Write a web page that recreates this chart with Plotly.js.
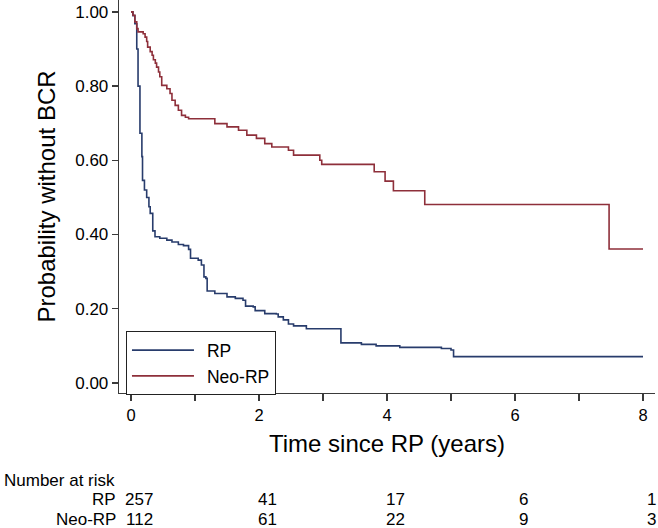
<!DOCTYPE html>
<html>
<head>
<meta charset="utf-8">
<script src="https://cdn.plot.ly/plotly-3.0.1.min.js"></script>
<style>
  html, body { margin: 0; padding: 0; background: #ffffff; }
  #chart { width: 658px; height: 528px; }
</style>
</head>
<body>
<div id="chart"></div>
<script>
// Kaplan-Meier step points (time in years, survival after the step)
const rpTime = [0, 0.03, 0.06, 0.09, 0.11, 0.14, 0.17, 0.18, 0.21, 0.245, 0.28, 0.30, 0.34, 0.375,
  0.45, 0.56, 0.64, 0.74, 0.82, 0.90, 0.93, 1.05, 1.10, 1.14, 1.17, 1.19, 1.31, 1.50, 1.63, 1.75,
  1.79, 1.91, 1.94, 2.09, 2.27, 2.30, 2.38, 2.46, 2.54, 2.74, 3.28, 3.60, 3.83, 4.20, 4.85, 5.00, 5.04, 8.00];
const rpSurv = [1.0, 0.99, 0.968, 0.90, 0.80, 0.673, 0.61, 0.546, 0.52, 0.50, 0.475, 0.457, 0.41, 0.394,
  0.39, 0.385, 0.38, 0.373, 0.37, 0.36, 0.336, 0.331, 0.318, 0.286, 0.282, 0.248, 0.241, 0.232, 0.228, 0.223,
  0.207, 0.205, 0.195, 0.187, 0.186, 0.178, 0.17, 0.159, 0.154, 0.146, 0.108, 0.104, 0.100, 0.096, 0.093, 0.089, 0.071, 0.071];

const neoTime = [0, 0.03, 0.06, 0.09, 0.11, 0.19, 0.22, 0.245, 0.26, 0.30, 0.33, 0.35, 0.38, 0.40, 0.43,
  0.45, 0.48, 0.56, 0.61, 0.64, 0.69, 0.74, 0.79, 0.85, 0.90, 1.31, 1.50, 1.68, 1.81, 1.96, 2.09, 2.20,
  2.46, 2.54, 2.95, 2.98, 3.80, 3.97, 4.10, 4.59, 7.47, 8.00];
const neoSurv = [1.0, 0.991, 0.973, 0.955, 0.946, 0.941, 0.932, 0.92, 0.905, 0.893, 0.883, 0.871, 0.862, 0.851, 0.838,
  0.825, 0.802, 0.793, 0.78, 0.762, 0.748, 0.735, 0.721, 0.716, 0.712, 0.699, 0.69, 0.681, 0.668, 0.659, 0.645, 0.636,
  0.627, 0.614, 0.600, 0.589, 0.569, 0.544, 0.518, 0.481, 0.361, 0.361];

// Number at risk table
const riskTimes = [0, 2, 4, 6, 8];
const riskRP = [257, 41, 17, 6, 1];
const riskNeo = [112, 61, 22, 9, 3];
const groupNames = ["RP", "Neo-RP"];

// x-axis ticks
const xTickVals = [0, 1, 2, 3, 4, 5, 6, 7, 8];
const xTickText = ["0", "", "2", "", "4", "", "6", "", "8"];

const FONT = "Liberation Sans, Arial, sans-serif";
const AXC = "#3a3a3a";
const BLUE = "#283c6c";
const RED = "#8e2f3a";

const traces = [
  { x: rpTime, y: rpSurv, name: groupNames[0], type: "scatter", mode: "lines",
    line: { shape: "hv", color: BLUE, width: 1.6 } },
  { x: neoTime, y: neoSurv, name: groupNames[1], type: "scatter", mode: "lines",
    line: { shape: "hv", color: RED, width: 1.6 } }
];

const annotations = [];
annotations.push({ xref: "paper", yref: "paper", x: -0.218, y: -0.223, xanchor: "left", yanchor: "middle",
  text: "Number at risk", showarrow: false, font: { family: FONT, size: 17, color: "#000" } });
const rows = [riskRP, riskNeo];
const rowY = [-0.272, -0.323];
rows.forEach(function (vals, r) {
  annotations.push({ xref: "paper", yref: "paper", x: -0.002, y: rowY[r], xanchor: "right", yanchor: "middle",
    text: groupNames[r], showarrow: false, font: { family: FONT, size: 17, color: "#000" } });
  vals.forEach(function (v, i) {
    annotations.push({ xref: "x", yref: "paper", x: riskTimes[i], y: rowY[r], xanchor: "center", yanchor: "middle",
      xshift: 8, text: String(v), showarrow: false, font: { family: FONT, size: 17, color: "#000" } });
  });
});

const layout = {
  width: 658, height: 528,
  margin: { l: 119, r: 3, t: 0, b: 135 },
  paper_bgcolor: "#ffffff", plot_bgcolor: "#ffffff",
  font: { family: FONT, color: "#000" },
  showlegend: true,
  legend: {
    x: 0.013, y: 0.157, xanchor: "left", yanchor: "top",
    bgcolor: "#ffffff", bordercolor: "#222", borderwidth: 1,
    font: { family: FONT, size: 17.5, color: "#000" },
    itemwidth: 70, tracegroupgap: 0, entrywidth: 150, entrywidthmode: "pixels"
  },
  xaxis: {
    range: [-0.1875, 8.1875], showgrid: false, zeroline: false,
    showline: true, linecolor: AXC, linewidth: 1.3,
    ticks: "outside", ticklen: 7, tickwidth: 1.3, tickcolor: AXC,
    tickvals: xTickVals, ticktext: xTickText,
    tickfont: { family: FONT, size: 16.5, color: "#000" },
    title: { text: "Time since RP (years)", font: { family: FONT, size: 24, color: "#000" }, standoff: 12 }
  },
  yaxis: {
    range: [-0.027, 1.032], showgrid: false, zeroline: false,
    showline: true, linecolor: AXC, linewidth: 1.3,
    ticks: "outside", ticklen: 6, tickwidth: 1.3, tickcolor: AXC,
    tickvals: [0, 0.2, 0.4, 0.6, 0.8, 1.0], tickformat: ".2f",
    tickfont: { family: FONT, size: 17, color: "#000" },
    title: { text: "Probability without BCR", font: { family: FONT, size: 24, color: "#000" }, standoff: 12 }
  },
  annotations: annotations
};

Plotly.newPlot("chart", traces, layout, { displayModeBar: false, staticPlot: true }).then(function (gd) {
  // lengthen legend sample lines to match the reference
  gd.querySelectorAll(".legend .traces path.js-line").forEach(function (p) {
    p.setAttribute("d", "M5,0h62");
  });
});
</script>
</body>
</html>
